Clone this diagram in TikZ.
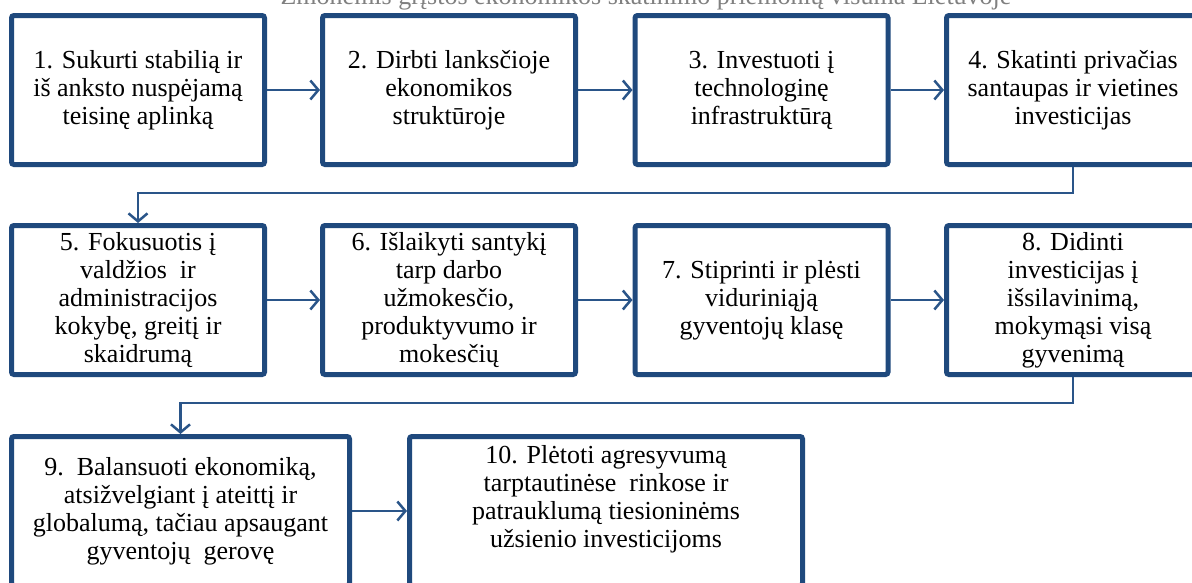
\documentclass[tikz,border=0pt]{standalone}
\usepackage{fontspec}
\setmainfont{Liberation Serif}
\usetikzlibrary{arrows.meta,calc}
\definecolor{boxblue}{HTML}{1F497D}
\definecolor{linkblue}{HTML}{2A5589}
\definecolor{titlegray}{HTML}{808080}
\begin{document}
\begin{tikzpicture}[x=1pt,y=-1pt,
  stepbox/.style={draw=boxblue, line width=5pt, rounded corners=2.5pt,
    fill=white, align=center, inner sep=0pt,
    font=\rmfamily\fontsize{26}{28}\selectfont,
    execute at begin node={\rule{0pt}{26pt}},
    minimum width=#1, minimum height=149pt},
  stepbox/.default=253pt,
  boxtext/.style={align=center, inner sep=0pt, font=\rmfamily\fontsize{26}{28}\selectfont},
  link/.style={draw=linkblue, line width=2.5pt,
    -{Straight Barb[length=8pt,width=19pt,line width=2.5pt]}}]
\useasboundingbox (0,0) rectangle (1192,582);
\clip (0,0) rectangle (1192,582);
\fill[white] (0,0) rectangle (1192,582);

% heading, partly above the page edge
\node[text=titlegray, font=\rmfamily\fontsize{26}{28}\selectfont, anchor=base] (title)
  at (646,4) {Žmonėmis grįstos ekonomikos skatinimo priemonių visuma Lietuvoje};

% first row
\node[stepbox] (b1) at (138,90) {1. Sukurti stabilią ir\\iš anksto nuspėjamą\\teisinę aplinką};
\node[stepbox] (b2) at (449,90) {2. Dirbti lanksčioje\\ekonomikos\\struktūroje};
\node[stepbox] (b3) at (761.5,90) {3. Investuoti į\\technologinę\\infrastruktūrą};
\node[stepbox] (b4) at (1073,90) {4. Skatinti privačias\\santaupas ir vietines\\investicijas};

% second row
\node[stepbox] (b5) at (138,300) {5. Fokusuotis į\\valdžios\ \ ir\\administracijos\\kokybę, greitį ir\\skaidrumą};
\node[stepbox] (b6) at (449,300) {6. Išlaikyti santykį\\tarp darbo\\užmokesčio,\\produktyvumo ir\\mokesčių};
\node[stepbox] (b7) at (761.5,300) {7. Stiprinti ir plėsti\\viduriniąją\\gyventojų klasę};
\node[stepbox] (b8) at (1073,300) {8. Didinti\\investicijas į\\išsilavinimą,\\mokymąsi visą\\gyvenimą};

% third row
\node[stepbox=338pt] (b9) at (180.5,511) {9.\ \ Balansuoti ekonomiką,\\atsižvelgiant į ateittį ir\\globalumą, tačiau apsaugant\\gyventojų\ \ gerovę};
\node[stepbox=393pt] (b10) at (606,511) {};
\node[boxtext] (t10) at ($(b10.center)+(0,-12)$) {10. Plėtoti agresyvumą\\tarptautinėse\ \ rinkose ir\\patrauklumą tiesioninėms\\užsienio investicijoms};

% links along each row
\draw[link] (b1.east) -- (b2.west);
\draw[link] (b2.east) -- (b3.west);
\draw[link] (b3.east) -- (b4.west);
\draw[link] (b5.east) -- (b6.west);
\draw[link] (b6.east) -- (b7.west);
\draw[link] (b7.east) -- (b8.west);
\draw[link] (b9.east) -- (b10.west);

% links wrapping to the next row
\draw[link] (b4.south) |- (1073,193) -| (b5.north);
\draw[link] (b8.south) |- (1073,403) -| (b9.north);
\end{tikzpicture}
\end{document}
